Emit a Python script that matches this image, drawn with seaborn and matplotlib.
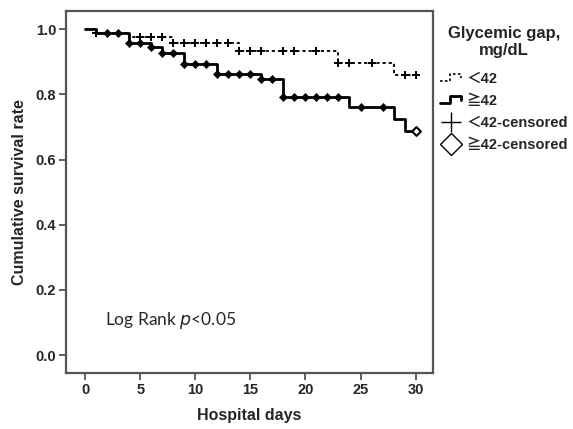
import numpy as np
import pandas as pd
import seaborn as sns
import matplotlib.pyplot as plt
from matplotlib.lines import Line2D
from matplotlib.legend_handler import HandlerBase

# step curves (time of step, survival after step)
low_times = [0, 1, 4, 8, 14, 23, 28, 30]
low_surv = [1.0, 0.988, 0.976, 0.957, 0.932, 0.897, 0.860, 0.860]
high_times = [0, 1, 4, 6, 7, 9, 12, 16, 18, 24, 28, 29, 30]
high_surv = [1.0, 0.988, 0.957, 0.946, 0.926, 0.892, 0.864, 0.848, 0.792, 0.762, 0.725, 0.688, 0.688]

# censored times
low_cens = [1, 5, 6, 7, 8, 9, 10, 11, 12, 13, 14, 15, 16, 18, 19, 21, 23, 24, 26, 29, 30]
high_cens = [2, 3, 4, 5, 6, 7, 8, 9, 10, 11, 12, 13, 14, 15, 16, 17, 18, 19, 20, 21,
             22, 23, 25, 27, 30]

x_ticks = [0, 5, 10, 15, 20, 25, 30]
y_ticks = [0.0, 0.2, 0.4, 0.6, 0.8, 1.0]


def surv_at(times, surv, t):
    idx = np.searchsorted(times, t, side="right") - 1
    return np.array(surv)[idx]


class StepHandler(HandlerBase):
    def create_artists(self, legend, orig_handle, xdescent, ydescent,
                       width, height, fontsize, trans):
        x0 = -xdescent
        y0 = -ydescent
        xs = [x0, x0 + width * 0.45, x0 + width * 0.45, x0 + width * 0.9, x0 + width * 0.9]
        ys = [y0 + height * 0.2, y0 + height * 0.2, y0 + height * 0.95,
              y0 + height * 0.95, y0 + height * 0.55]
        ln = Line2D(xs, ys)
        ln.update_from(orig_handle)
        ln.set_marker("")
        ln.set_transform(trans)
        return [ln]


sns.set_style("ticks")
plt.rcParams["font.family"] = ["Liberation Sans", "DejaVu Sans", "Noto Sans CJK JP"]

fig = plt.figure(figsize=(5.73, 4.29), dpi=100)
ax = fig.add_axes([0.115, 0.1305, 0.641, 0.8445])

df_low = pd.DataFrame({"t": low_times, "s": low_surv})
df_high = pd.DataFrame({"t": high_times, "s": high_surv})

sns.lineplot(data=df_low, x="t", y="s", ax=ax, drawstyle="steps-post", color="black",
             lw=1.3, linestyle=(0, (1.8, 1.6)), estimator=None, sort=False)
sns.lineplot(data=df_high, x="t", y="s", ax=ax, drawstyle="steps-post", color="black",
             lw=2.0, estimator=None, sort=False)

low_c = pd.DataFrame({"t": low_cens, "s": surv_at(low_times, low_surv, low_cens)})
high_c = pd.DataFrame({"t": high_cens, "s": surv_at(high_times, high_surv, high_cens)})

sns.scatterplot(data=low_c, x="t", y="s", ax=ax, marker="+", s=30, color="black",
                linewidth=1.4, zorder=5)
sns.scatterplot(data=high_c.iloc[:-1], x="t", y="s", ax=ax, marker="D", s=18,
                color="black", edgecolor="black", zorder=5)
sns.scatterplot(data=high_c.iloc[-1:], x="t", y="s", ax=ax, marker="D", s=20,
                color="white", edgecolor="black", linewidth=1.5, zorder=6)

ax.set_xlim(-1.75, 31.6)
ax.set_ylim(-0.055, 1.057)
ax.set_xticks(x_ticks)
ax.set_yticks(y_ticks)
ax.set_yticklabels([f"{v:.1f}" for v in y_ticks])
ax.tick_params(axis="both", direction="out", length=5, width=1.2, color="#444444",
               labelsize=10.5, pad=2)
for lab in ax.get_xticklabels() + ax.get_yticklabels():
    lab.set_fontweight("bold")
for sp in ax.spines.values():
    sp.set_visible(True)
    sp.set_color("#555555")
    sp.set_linewidth(1.6)

ax.set_xlabel("Hospital days", fontsize=11.5, fontweight="bold", labelpad=8)
ax.set_ylabel("Cumulative survival rate", fontsize=11.5, fontweight="bold", labelpad=6)

ax.text(1.8, 0.107, "Log Rank $p$<0.05", fontsize=12.5, va="center", ha="left",
        family=["Lato", "DejaVu Sans"])

handles = [
    Line2D([], [], color="black", lw=1.2, linestyle=(0, (1.5, 1.5))),
    Line2D([], [], color="black", lw=2.0),
    Line2D([], [], color="black", marker="+", markersize=14, markeredgewidth=1.0, linestyle=""),
    Line2D([], [], color="black", marker="D", markersize=11, markerfacecolor="white",
           markeredgewidth=1.0, linestyle=""),
]
labels = ["＜42", "≧42", "＜42-censored", "≧42-censored"]
leg = fig.legend(handles, labels, loc="upper left", bbox_to_anchor=(0.752, 0.96),
                 frameon=False, handler_map={handles[0]: StepHandler(), handles[1]: StepHandler()},
                 title="Glycemic gap,\nmg/dL", handlelength=1.6, handletextpad=0.25,
                 labelspacing=0.55, borderaxespad=0.2,
                 prop={"weight": "bold", "size": 10.5,
                       "family": ["Liberation Sans", "Noto Sans CJK JP", "DejaVu Sans"]},
                 title_fontproperties={"weight": "bold", "size": 12})
leg._legend_box.align = "center"
leg._legend_box.sep = 10
leg.get_title().set_ha("center")

fig.savefig("out.png", dpi=100)
